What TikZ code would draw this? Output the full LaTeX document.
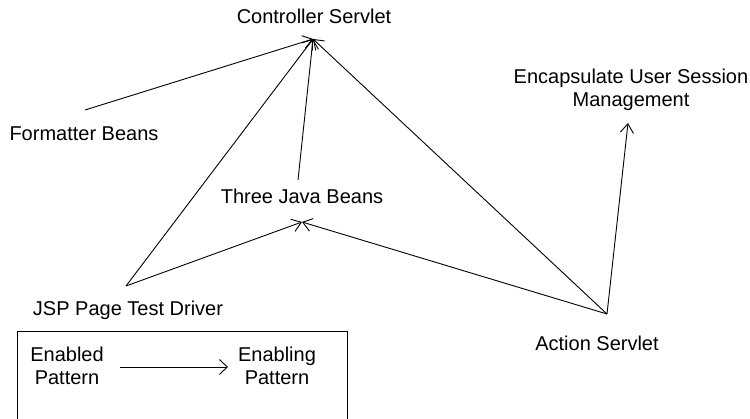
\documentclass[tikz,border=0pt]{standalone}
\usepackage{fontspec}
\setmainfont{Liberation Sans}
\usetikzlibrary{arrows.meta}
\begin{document}
\begin{tikzpicture}[x=1pt,y=-1pt,
  lbl/.style={font=\fontsize{20}{23}\selectfont, align=center, inner sep=0pt},
  conn/.style={line width=0.9pt, -{Straight Barb[length=9pt,width=13pt,line width=0.9pt]}},
  plain/.style={line width=0.9pt}]
\useasboundingbox (0,0) rectangle (750,419);
% label nodes
\node[lbl] (ctrl) at (314,16) {Controller Servlet};
\node[lbl] (enc) at (631,90) {Encapsulate User Session\\Management};
\node[lbl] (fmt) at (84,134) {Formatter Beans};
\node[lbl] (tjb) at (302,196) {Three Java Beans};
\node[lbl] (jsp) at (128,310) {JSP Page Test Driver};
\node[lbl] (act) at (597,343) {Action Servlet};
% anchor points
\coordinate (C) at (313,39);
\coordinate (F) at (85,110);
\coordinate (J) at (126,286);
\coordinate (T) at (302,222);
\coordinate (Tu) at (298,180);
\coordinate (A) at (607,314);
\coordinate (E) at (628,123);
% connectors
\draw[conn] (F) -- (C);
\draw[conn] (J) -- (C);
\draw[conn] (Tu) -- (C);
\draw[conn] (A) -- (C);
\draw[conn] (J) -- (T);
\draw[conn] (A) -- (T);
\draw[conn] (A) -- (E);
% legend box
\draw[line width=0.9pt] (17,422) -- (17,331) -- (347,331) -- (347,422);
\node[lbl] (ed) at (67,366) {Enabled\\Pattern};
\node[lbl] (eg) at (277,366) {Enabling\\Pattern};
\coordinate (L1) at (120,367);
\coordinate (L2) at (228,367);
\draw[line width=0.9pt, -{Straight Barb[length=8pt,width=15pt,line width=0.9pt]}] (L1) -- (L2);
\end{tikzpicture}
\end{document}
